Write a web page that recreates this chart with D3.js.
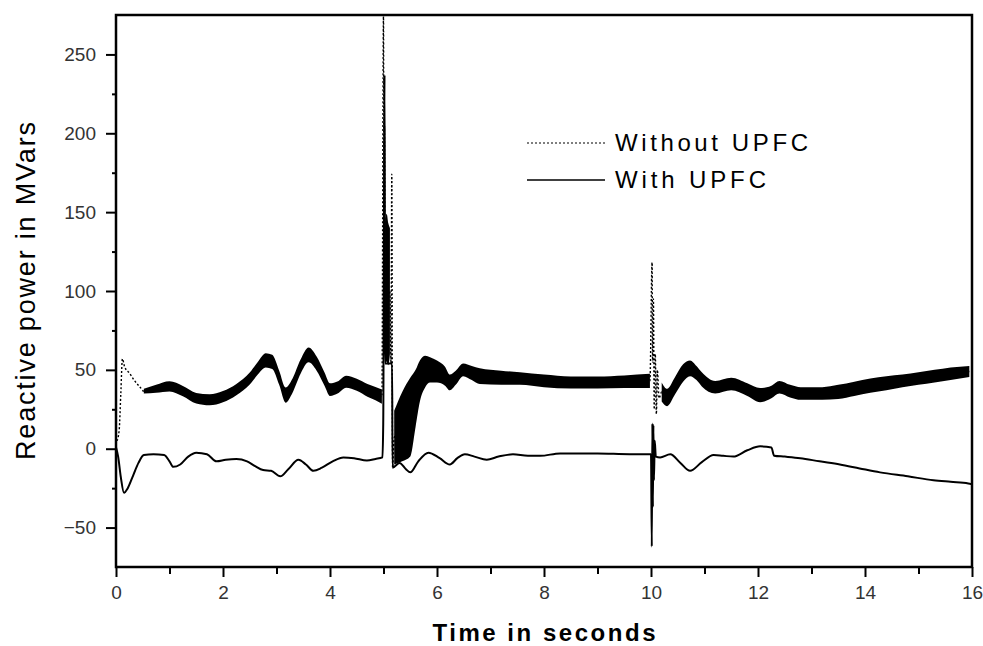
<!DOCTYPE html>
<html>
<head>
<meta charset="utf-8">
<script src="https://cdn.jsdelivr.net/npm/d3@7"></script>
<style>
  body { margin: 0; background: #fff; }
  svg { display: block; font-family: "Liberation Sans", Arial, sans-serif; }
</style>
</head>
<body>
<div id="chart"></div>
<script>
// ---- data ----
// "Without UPFC": centre of the noisy band and its half thickness (MVars); 0 = thin dotted trace
var timeWithout = [0.02,0.06,0.09,0.12,0.16,0.25,0.35,0.45,0.52,0.75,1.0,1.25,1.5,1.75,2.0,2.25,2.5,2.65,2.8,2.92,3.05,3.17,3.3,3.45,3.6,3.75,3.9,4.0,4.15,4.3,4.5,4.7,4.85,4.97,
  5.0,5.01,5.02,5.03,5.06,5.09,5.12,5.14,5.155,5.17,
  5.2,5.35,5.5,5.6,5.68,5.78,5.87,6.0,6.15,6.24,6.35,6.49,6.65,6.8,7.2,7.55,8.0,8.5,9.0,9.5,9.98,
  10.02,10.03,10.045,10.06,10.08,10.1,10.12,10.15,
  10.2,10.3,10.45,10.6,10.73,10.85,10.95,11.2,11.5,11.8,12.04,12.25,12.4,12.6,12.8,13.2,13.5,13.8,14.1,14.4,14.7,15.0,15.3,15.6,15.95];
var withoutUPFC = [5,12,35,57,52,48,43,39,36.5,38,39.5,36.5,32,31,33,37.5,44.5,51,56,55,45,34,40,52,59.5,54,44,37.5,39,42.5,40.5,37,35,33,
  275,60,205,100,102,98,100,54,174,-12,
  7,14,20,32,43,49,50,49,46,42,45,50,48,46,45,44.5,43,42,42,42.5,43,
  118,55,95,25,60,22,50,32,
  36,32.5,40,48,51,48,44,39,41,37.5,34,36,39,36.5,35,35,36,38,40,41.5,43,44.5,46,47.5,49];
var withoutSpread = [0,0,0,0,0,0,0,0,1.5,2.5,3.2,3.3,3.4,3.5,3.6,3.6,3.8,4,4.5,4.5,4.5,4.8,4.5,4.5,4.7,4.5,4.2,4,3.8,3.8,3.8,4,4.2,4.5,
  0,0,0,44,47,45,40,0,0,0,
  17,22,25,18,13,10,8,7,6,5,4.5,4,4.5,5,4.5,4,4,3.8,3.8,4,4.5,
  0,0,0,0,0,0,0,0,
  6,5.5,5.5,5.5,5,4.5,4.5,4,4,4,4.5,4,4,4,4,4,4.5,4.5,4.5,4.5,4,4,4,4,3.5];

// "With UPFC"
var timeWith = [0,0.04,0.09,0.15,0.22,0.32,0.42,0.52,0.7,0.9,1.0,1.07,1.2,1.35,1.5,1.7,1.88,2.05,2.25,2.45,2.6,2.75,2.9,3.07,3.22,3.41,3.55,3.69,3.85,4.05,4.25,4.45,4.69,4.85,4.98,
  4.995,5.02,5.03,5.16,5.17,5.3,5.42,5.5,5.65,5.84,6.05,6.24,6.38,6.52,6.7,6.93,7.15,7.42,7.7,7.93,8.3,9.0,9.6,10.0,
  10.015,10.025,10.035,10.045,10.055,10.07,10.09,10.17,10.36,10.55,10.73,10.95,11.17,11.35,11.54,11.8,12.04,12.25,12.3,12.5,12.79,13.15,13.53,13.9,14.28,14.8,15.28,15.6,15.93,16];
var withUPFC = [1,-5,-18,-28,-25,-17,-9,-4,-3.5,-4,-8,-11.5,-10,-5,-2.5,-3.5,-8,-7,-6.5,-8,-11,-13.5,-14,-17.5,-13,-7,-10,-14,-12,-8,-5.5,-6,-7.5,-6.5,-5.5,
  16,237,54,54,-12,-9,-13,-15,-8,-2.5,-6,-10,-6,-3.5,-5,-7,-5,-3.5,-4.5,-4.5,-3,-3,-3.5,-3.5,
  -62,16,-37,15,-20,5,-5,-5.5,-3.5,-9,-14,-8.5,-4,-4.5,-5,-1,1.5,0.8,-4.4,-5,-6,-8,-10,-12.5,-15,-17.5,-20,-21,-22,-22.5];

var xMajor = [0,2,4,6,8,10,12,14,16];
var xMinor = [1,3,5,7,9,11,13,15];
var yMajor = [-50,0,50,100,150,200,250];
var yMinor = [-25,25,75,125,175,225];
var seriesNames = ["Without UPFC", "With UPFC"];

// ---- layout ----
var W = 983, H = 646;
var plot = {left: 116, right: 972, top: 15, bottom: 567};

var svg = d3.select("#chart").append("svg")
  .attr("width", W).attr("height", H);

var x = d3.scaleLinear().domain([0, 16]).range([plot.left, plot.right]);
var y = d3.scaleLinear().domain([-75, 275]).range([plot.bottom, plot.top]);

svg.append("clipPath").attr("id", "clip")
  .append("rect")
  .attr("x", plot.left).attr("y", plot.top)
  .attr("width", plot.right - plot.left).attr("height", plot.bottom - plot.top);

var without = timeWithout.map(function(t, i) {
  return {t: t, v: withoutUPFC[i], s: withoutSpread[i]};
});
var withData = timeWith.map(function(t, i) { return {t: t, v: withUPFC[i]}; });

var g = svg.append("g").attr("clip-path", "url(#clip)");

// band of the fast oscillation
var band = d3.area()
  .defined(function(d) { return d.s > 0; })
  .curve(d3.curveMonotoneX)
  .x(function(d) { return x(d.t); })
  .y0(function(d) { return y(d.v - d.s); })
  .y1(function(d) { return y(d.v + d.s); });

g.append("path")
  .datum(without)
  .attr("d", band)
  .attr("fill", "#000");

var line = d3.line()
  .curve(d3.curveMonotoneX)
  .x(function(d) { return x(d.t); })
  .y(function(d) { return y(d.v); });

g.append("path")
  .datum(without)
  .attr("d", line)
  .attr("fill", "none")
  .attr("stroke", "#000")
  .attr("stroke-width", 1.4)
  .attr("stroke-dasharray", "2,2");

g.append("path")
  .datum(withData)
  .attr("d", line)
  .attr("fill", "none")
  .attr("stroke", "#000")
  .attr("stroke-width", 2);

// ---- axes ----
function styleAxis(sel) {
  sel.select(".domain").remove();
  sel.selectAll(".tick line").attr("stroke", "#000").attr("stroke-width", 2);
  sel.selectAll("text").attr("fill", "#333").style("font-size", "19px");
}

svg.append("g")
  .attr("transform", "translate(0," + plot.bottom + ")")
  .call(d3.axisBottom(x).tickValues(xMajor).tickSize(10).tickPadding(9).tickFormat(d3.format("d")))
  .call(styleAxis);
svg.append("g")
  .attr("transform", "translate(0," + plot.bottom + ")")
  .call(d3.axisBottom(x).tickValues(xMinor).tickSize(7).tickFormat(""))
  .call(styleAxis);
svg.append("g")
  .attr("transform", "translate(" + plot.left + ",0)")
  .call(d3.axisLeft(y).tickValues(yMajor).tickSize(10).tickPadding(10).tickFormat(d3.format("d")))
  .call(styleAxis);
svg.append("g")
  .attr("transform", "translate(" + plot.left + ",0)")
  .call(d3.axisLeft(y).tickValues(yMinor).tickSize(4).tickFormat(""))
  .call(styleAxis);

svg.append("rect")
  .attr("x", plot.left).attr("y", plot.top)
  .attr("width", plot.right - plot.left).attr("height", plot.bottom - plot.top)
  .attr("fill", "none").attr("stroke", "#000").attr("stroke-width", 2.5);

// axis titles
svg.append("text")
  .attr("x", (plot.left + plot.right) / 2).attr("y", 641)
  .attr("text-anchor", "middle")
  .attr("textLength", 223).attr("lengthAdjust", "spacing")
  .style("font-size", "24px").style("font-weight", "bold")
  .text("Time in seconds");

svg.append("text")
  .attr("transform", "translate(35,291) rotate(-90)")
  .attr("text-anchor", "middle")
  .attr("textLength", 338).attr("lengthAdjust", "spacing")
  .style("font-size", "27px")
  .text("Reactive power in MVars");

// ---- legend ----
var legend = svg.append("g");
var legendY = [143, 180];
seriesNames.forEach(function(name, i) {
  legend.append("line")
    .attr("x1", 527).attr("x2", 605)
    .attr("y1", legendY[i]).attr("y2", legendY[i])
    .attr("stroke", i === 0 ? "#555" : "#000")
    .attr("stroke-width", i === 0 ? 1.3 : 1.6)
    .attr("stroke-dasharray", i === 0 ? "2,2" : null);
  legend.append("text")
    .attr("x", 615).attr("y", legendY[i] + 8)
    .attr("textLength", i === 0 ? 193 : 151).attr("lengthAdjust", "spacing")
    .style("font-size", "24px")
    .text(name);
});
</script>
</body>
</html>
